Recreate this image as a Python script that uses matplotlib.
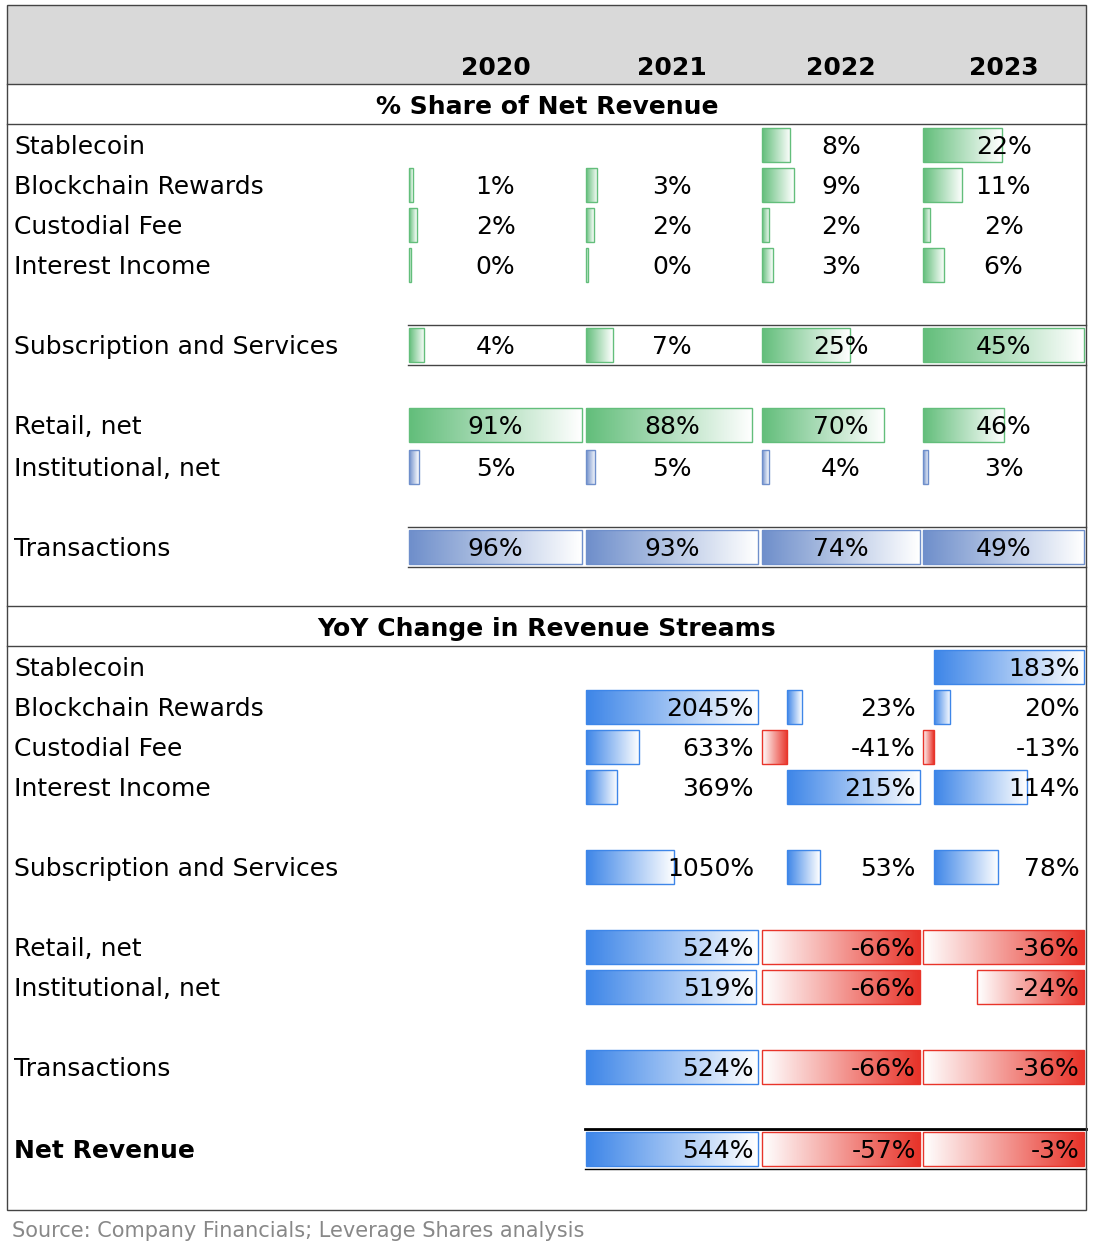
import numpy as np
import matplotlib.pyplot as plt
from matplotlib.colors import to_rgb

plt.rcParams['font.family'] = ['DejaVu Sans']

years = ['2020', '2021', '2022', '2023']
labels = ['Stablecoin', 'Blockchain Rewards', 'Custodial Fee', 'Interest Income',
          'Subscription and Services', 'Retail, net', 'Institutional, net', 'Transactions']

# % share of net revenue (None = blank)
share = {
    'Stablecoin': [None, None, 8, 22],
    'Blockchain Rewards': [1, 3, 9, 11],
    'Custodial Fee': [2, 2, 2, 2],
    'Interest Income': [0, 0, 3, 6],
    'Subscription and Services': [4, 7, 25, 45],
    'Retail, net': [91, 88, 70, 46],
    'Institutional, net': [5, 5, 4, 3],
    'Transactions': [96, 93, 74, 49],
}
# YoY change (2020 column blank)
yoy = {
    'Stablecoin': [None, None, None, 183],
    'Blockchain Rewards': [None, 2045, 23, 20],
    'Custodial Fee': [None, 633, -41, -13],
    'Interest Income': [None, 369, 215, 114],
    'Subscription and Services': [None, 1050, 53, 78],
    'Retail, net': [None, 524, -66, -36],
    'Institutional, net': [None, 519, -66, -24],
    'Transactions': [None, 524, -66, -36],
    'Net Revenue': [None, 544, -57, -3],
}

row_y_top = [145, 185, 225, 265, 345, 425, 467, 547]
row_y_bot = [667, 707, 747, 787, 867, 947, 987, 1067, 1149]
col_x = [(409, 582), (586, 758), (762, 920), (923, 1084)]
bh = 34
ty = 2  # text baseline nudge

GREEN, SLATE, BLUE, RED = '#63BE7B', '#6F8FCB', '#3E86E8', '#E8342A'

fig = plt.figure(figsize=(11, 12.56), dpi=100)
ax = fig.add_axes([0, 0, 1, 1])
ax.set_xlim(0, 1100)
ax.set_ylim(1256, 0)
ax.axis('off')


def gbar(x0, x1, yc, color, dark_left=True):
    if x1 - x0 < 1:
        x1 = x0 + 1.5
    c = np.array(to_rgb(color))
    t = np.linspace(0, 1, 64)
    if not dark_left:
        t = t[::-1]
    img = c[None, :] * (1 - t[:, None]) + np.ones(3)[None, :] * t[:, None]
    img = img[None, :, :]
    ax.imshow(img, extent=(x0, x1, yc + bh / 2, yc - bh / 2), aspect='auto', zorder=2)
    ax.add_patch(plt.Rectangle((x0, yc - bh / 2), x1 - x0, bh, fill=False,
                               ec=color, lw=1, zorder=3))


def draw_group(values, cols, ys, pos_colors, neg_color):
    # one data-bar range over the given cells, like a spreadsheet rule
    if isinstance(pos_colors, str):
        pos_colors = [pos_colors] * len(ys)
    vals = [values[r][c] for r in range(len(ys)) for c in cols if values[r][c] is not None]
    lo, hi = min(0, min(vals)), max(0, max(vals))
    for r, yc in enumerate(ys):
        for c in cols:
            v = values[r][c]
            if v is None:
                continue
            a, b = col_x[c]
            s = lambda u: a + (u - lo) / (hi - lo) * (b - a)
            if v >= 0:
                gbar(s(0), s(v), yc, pos_colors[r], True)
            else:
                gbar(s(v), s(0), yc, neg_color, False)


fs = 18
# frame and header
ax.add_patch(plt.Rectangle((7, 5), 1079, 79, fc='#D9D9D9', ec='none', zorder=0))
ax.add_patch(plt.Rectangle((7, 5), 1079, 1205, fill=False, ec='#444444', lw=1, zorder=5))
for y in [84, 124, 606, 646]:
    ax.plot([7, 1086], [y, y], color='#444444', lw=1, zorder=5)
for i, yr in enumerate(years):
    cx = [496, 672, 841, 1004][i]
    ax.text(cx, 66 + ty, yr, ha='center', va='center', fontsize=fs, fontweight='bold')
ax.text(547, 105 + ty, '% Share of Net Revenue', ha='center', va='center', fontsize=fs, fontweight='bold')
ax.text(547, 627 + ty, 'YoY Change in Revenue Streams', ha='center', va='center', fontsize=fs, fontweight='bold')

# top section
tv = [share[l] for l in labels]
allc = [0, 1, 2, 3]
draw_group(tv[0:5], allc, row_y_top[0:5], GREEN, RED)
draw_group(tv[5:7], allc, row_y_top[5:7], [GREEN, SLATE], RED)
for c in allc:
    draw_group(tv[7:8], [c], row_y_top[7:8], SLATE, RED)
for yc in [row_y_top[4], row_y_top[7]]:
    ax.plot([408, 1086], [yc - 20, yc - 20], color='#444444', lw=1, zorder=4)
    ax.plot([408, 1086], [yc + 20, yc + 20], color='#444444', lw=1, zorder=4)
for r, l in enumerate(labels):
    yc = row_y_top[r] + ty
    ax.text(14, yc, l, ha='left', va='center', fontsize=fs, zorder=6)
    for c in allc:
        v = share[l][c]
        if v is not None:
            a, b = col_x[c]
            ax.text((a + b) / 2, yc, f'{v}%', ha='center', va='center', fontsize=fs, zorder=6)

# bottom section
blabels = labels + ['Net Revenue']
bv = [yoy[l] for l in blabels]
for c in [1, 2, 3]:
    draw_group(bv[0:5], [c], row_y_bot[0:5], BLUE, RED)
    draw_group(bv[5:7], [c], row_y_bot[5:7], BLUE, RED)
    draw_group(bv[7:8], [c], row_y_bot[7:8], BLUE, RED)
    draw_group(bv[8:9], [c], row_y_bot[8:9], BLUE, RED)
ax.plot([585, 1086], [row_y_bot[8] - 20] * 2, color='black', lw=2, zorder=4)
ax.plot([585, 1086], [row_y_bot[8] + 20] * 2, color='black', lw=1, zorder=4)
for r, l in enumerate(blabels):
    yc = row_y_bot[r] + ty
    ax.text(14, yc, l, ha='left', va='center', fontsize=fs, zorder=6,
            fontweight='bold' if l == 'Net Revenue' else 'normal')
    for c in [1, 2, 3]:
        v = yoy[l][c]
        if v is not None:
            ax.text(col_x[c][1] - 4, yc, f'{v}%', ha='right', va='center', fontsize=fs, zorder=6)

ax.text(12, 1231, 'Source: Company Financials; Leverage Shares analysis', ha='left',
        va='center', fontsize=15, color='#888888')

fig.savefig('out.png', dpi=100)
